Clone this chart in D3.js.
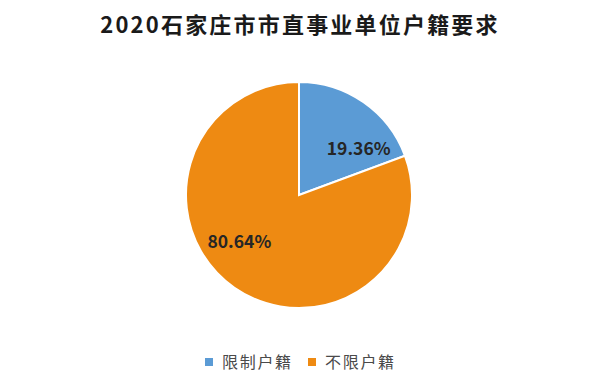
<!DOCTYPE html>
<html>
<head>
<meta charset="utf-8">
<script src="https://cdn.jsdelivr.net/npm/d3@7"></script>
<style>
  body { margin: 0; background: #fff; }
  svg { display: block; font-family: "Noto Sans CJK SC", "Noto Sans", sans-serif; }
</style>
</head>
<body>
<div id="chart"></div>
<script>
// chart data
const categories = ["限制户籍", "不限户籍"];
const values = [19.36, 80.64];
const colors = ["#5B9BD5", "#EE8A12"];
const title = "2020石家庄市市直事业单位户籍要求";

const width = 600, height = 389;
const cx = 299, cy = 195, radius = 113;

const svg = d3.select("#chart").append("svg")
    .attr("width", width)
    .attr("height", height);

svg.append("text")
    .attr("x", 300)
    .attr("y", 33)
    .attr("text-anchor", "middle")
    .attr("font-size", 22)
    .attr("font-weight", 700)
    .attr("letter-spacing", 2.2)
    .attr("fill", "#1a1a1a")
    .text(title);

const data = categories.map((c, i) => ({ name: c, value: values[i], color: colors[i] }));

const pie = d3.pie().value(d => d.value).sort(null);
const arc = d3.arc().innerRadius(0).outerRadius(radius);

const g = svg.append("g").attr("transform", `translate(${cx},${cy})`);
const arcs = pie(data);

g.selectAll("path")
    .data(arcs)
    .enter().append("path")
    .attr("d", arc)
    .attr("fill", d => d.data.color)
    .attr("stroke", "#fff")
    .attr("stroke-width", 2);

// labels sit a bit clockwise of the slice middle, like the original
function labelPos(d) {
    const a = (d.startAngle + d.endAngle) / 2 + 0.3;
    const r = radius * 0.67;
    return [r * Math.sin(a), -r * Math.cos(a)];
}

g.selectAll("text.lbl")
    .data(arcs)
    .enter().append("text")
    .attr("class", "lbl")
    .attr("transform", d => `translate(${labelPos(d)})`)
    .attr("text-anchor", "middle")
    .attr("dy", "0.35em")
    .attr("font-size", 17.5)
    .attr("font-weight", 700)
    .attr("fill", "#262626")
    .text(d => d.data.value.toFixed(2) + "%");

// legend
const legend = svg.append("g").attr("transform", "translate(205,362)");
const item = legend.selectAll("g")
    .data(data)
    .enter().append("g")
    .attr("transform", (d, i) => `translate(${i * 103},0)`);

item.append("rect")
    .attr("x", 0).attr("y", -4)
    .attr("width", 8).attr("height", 8)
    .attr("fill", d => d.color);

item.append("text")
    .attr("x", 17)
    .attr("dy", "0.35em")
    .attr("font-size", 16)
    .attr("letter-spacing", 1.7)
    .attr("fill", "#4a4a4a")
    .text(d => d.name);
</script>
</body>
</html>
